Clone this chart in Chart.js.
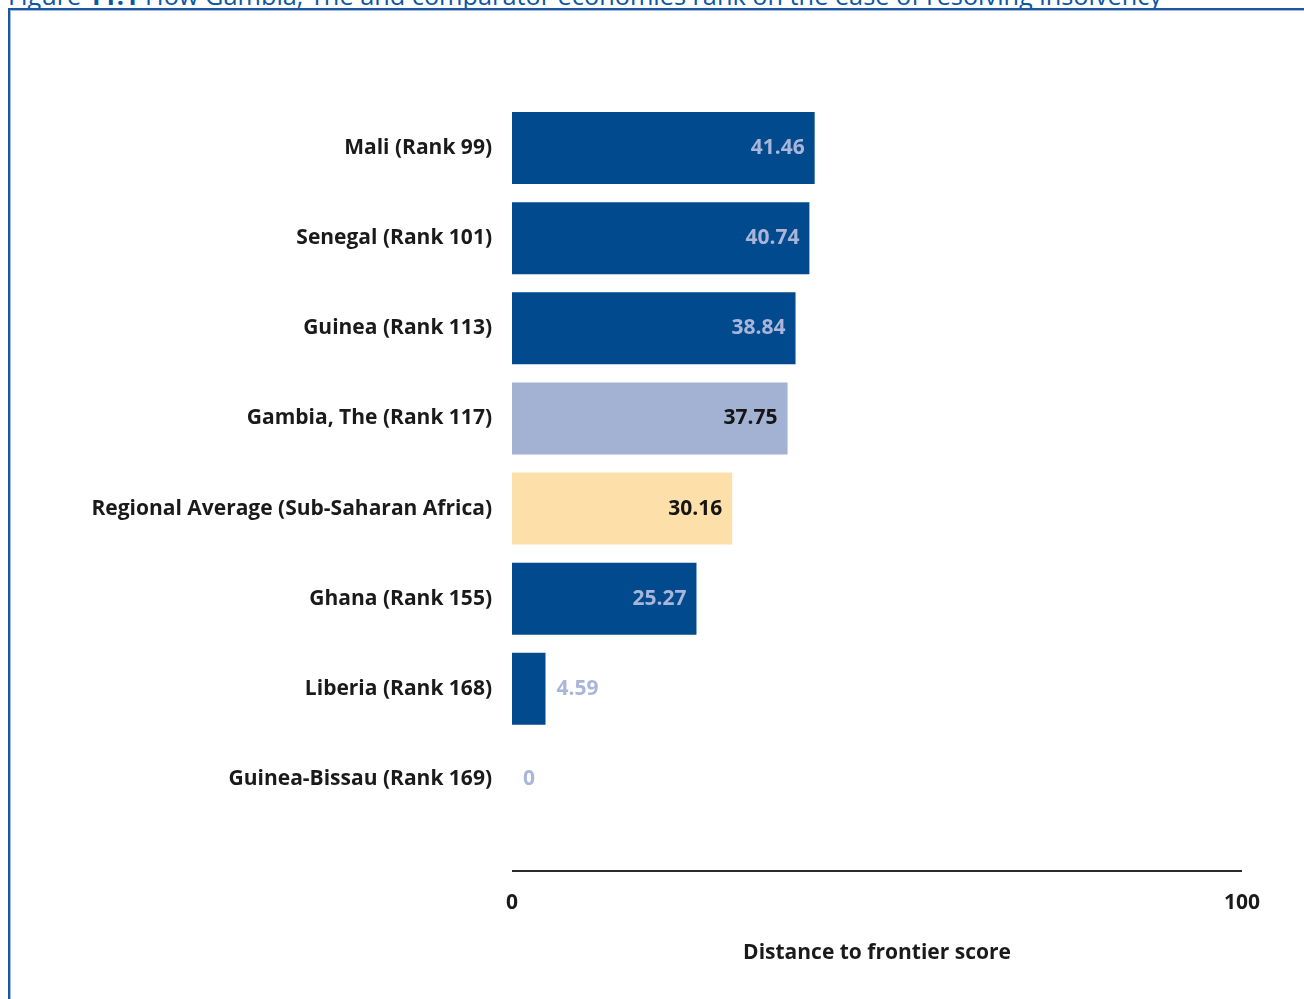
<!DOCTYPE html>
<html lang="en">
<head>
<meta charset="utf-8">
<style>
    html, body { margin: 0; padding: 0; background: #fff; overflow: hidden; }
    #page { position: relative; width: 1304px; height: 999px; overflow: hidden; }
    #title {
        position: absolute; left: 8px; top: -17px; white-space: nowrap;
        font-family: "Open Sans", sans-serif; font-size: 25.3px; line-height: 1; color: #0b57a4;
    }
    #frame {
        position: absolute; left: 8px; top: 8px; width: 1400px; height: 1100px;
        border-left: 2px solid #1d56a0; border-top: 2px solid #1d56a0;
        box-shadow: inset 1px 1px 0 #9fbbe0;
    }
    #wrap { position: absolute; left: 0; top: 0; width: 1304px; height: 999px; }
</style>
</head>
<body>
<div id="page">
    <div id="title">Figure <b>11.1</b> How Gambia, The and comparator economies rank on the ease of resolving insolvency</div>
    <div id="frame"></div>
    <div id="wrap"><canvas id="myChart" width="1304" height="999"></canvas></div>
</div>

<script src="https://cdn.jsdelivr.net/npm/chart.js"></script>
<script>
    var economies = [
        'Mali (Rank 99)',
        'Senegal (Rank 101)',
        'Guinea (Rank 113)',
        'Gambia, The (Rank 117)',
        'Regional Average (Sub-Saharan Africa)',
        'Ghana (Rank 155)',
        'Liberia (Rank 168)',
        'Guinea-Bissau (Rank 169)'
    ];
    var scores = [41.46, 40.74, 38.84, 37.75, 30.16, 25.27, 4.59, 0];
    var barColors = ['#004a8d', '#004a8d', '#004a8d', '#a3b1d3', '#fddfa9', '#004a8d', '#004a8d', '#004a8d'];
    var valueColors = ['#a9b6d9', '#a9b6d9', '#a9b6d9', '#151515', '#151515', '#a9b6d9', '#a9b6d9', '#a9b6d9'];
    var xTicks = [0, 100];

    var FONT = '"Open Sans", sans-serif';

    // value labels at the end of each bar
    var valueLabels = {
        id: 'valueLabels',
        afterDatasetsDraw: function (chart) {
            var ctx = chart.ctx;
            var meta = chart.getDatasetMeta(0);
            ctx.save();
            ctx.font = 'bold 21px ' + FONT;
            ctx.textBaseline = 'middle';
            meta.data.forEach(function (bar, i) {
                var w = bar.x - bar.base;
                ctx.fillStyle = valueColors[i];
                if (w > 60) {
                    ctx.textAlign = 'right';
                    ctx.fillText(scores[i].toFixed(2), bar.x - 10, bar.y);
                } else {
                    ctx.textAlign = 'left';
                    ctx.fillText(scores[i] === 0 ? '0' : scores[i].toFixed(2), bar.x + 11, bar.y);
                }
            });
            ctx.restore();
        }
    };

    // detached x axis line below the bars
    var axisLine = {
        id: 'axisLine',
        afterDraw: function (chart) {
            var x = chart.scales.x;
            var y = chart.chartArea.bottom + 47;
            var ctx = chart.ctx;
            ctx.save();
            ctx.strokeStyle = '#2b2b2b';
            ctx.lineWidth = 2;
            ctx.beginPath();
            ctx.moveTo(x.getPixelForValue(xTicks[0]), y);
            ctx.lineTo(x.getPixelForValue(xTicks[xTicks.length - 1]), y);
            ctx.stroke();
            ctx.restore();
        }
    };

    var config = {
        type: 'bar',
        data: {
            labels: economies,
            datasets: [{
                data: scores,
                backgroundColor: barColors,
                borderWidth: 0,
                categoryPercentage: 0.8,
                barPercentage: 1
            }]
        },
        options: {
            indexAxis: 'y',
            responsive: false,
            animation: false,
            layout: { padding: { top: 103, right: 62, bottom: 0, left: 0 } },
            plugins: {
                legend: { display: false },
                tooltip: { enabled: false }
            },
            scales: {
                x: {
                    min: 0,
                    max: 100,
                    afterBuildTicks: function (scale) {
                        scale.ticks = xTicks.map(function (v) { return { value: v }; });
                    },
                    afterFit: function (scale) {
                        scale.height = 175;
                        scale.paddingLeft = 0;
                        scale.paddingRight = 0;
                    },
                    grid: { display: false, drawTicks: false },
                    border: { display: false },
                    ticks: {
                        padding: 66,
                        color: '#1a1a1a',
                        font: { family: FONT, size: 21, weight: 'bold' },
                        maxRotation: 0
                    },
                    title: {
                        display: true,
                        text: 'Distance to frontier score',
                        color: '#1a1a1a',
                        font: { family: FONT, size: 21, weight: 'bold' },
                        padding: { top: 26, bottom: 33 }
                    }
                },
                y: {
                    afterFit: function (scale) { scale.width = 512; },
                    grid: { display: false, drawTicks: false },
                    border: { display: false },
                    ticks: {
                        padding: 20,
                        color: '#1a1a1a',
                        font: { family: FONT, size: 21, weight: 'bold' }
                    }
                }
            }
        },
        plugins: [valueLabels, axisLine]
    };

    var myChart = new Chart(document.getElementById('myChart'), config);
</script>
</body>
</html>
